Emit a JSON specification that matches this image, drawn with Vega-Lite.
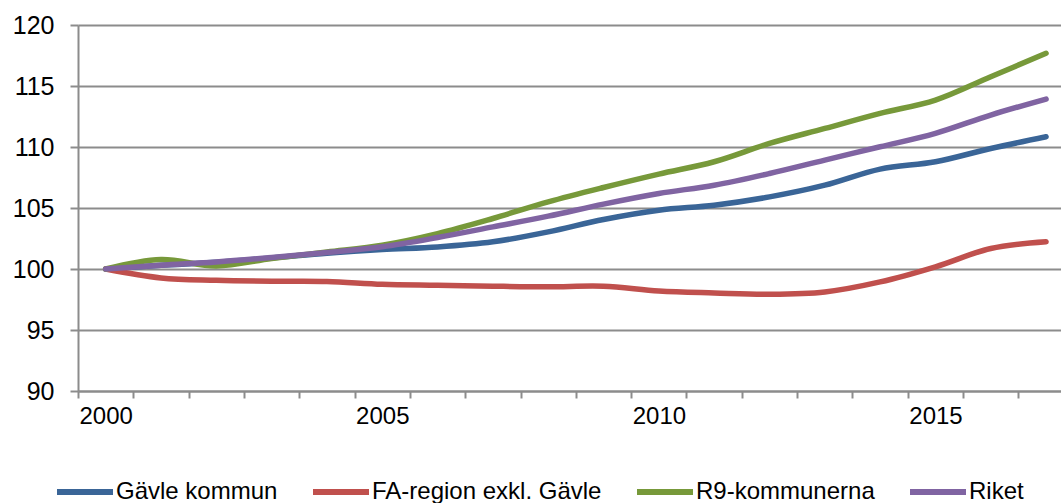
{
  "$schema": "https://vega.github.io/schema/vega-lite/v6.json",
  "autosize": {"type": "none"},
  "padding": {"left": 78, "top": 25, "right": 0, "bottom": 112},
  "width": 983,
  "height": 366,
  "background": "white",
  "config": {
    "view": {"stroke": null},
    "font": "Liberation Sans",
    "axis": {"labelFont": "Liberation Sans", "labelFontSize": 24, "labelColor": "#000000", "domainColor": "#8c8c8c", "tickColor": "#8c8c8c", "gridColor": "#8c8c8c", "domainWidth": 2, "tickWidth": 2, "gridWidth": 2},
    "legend": {"labelFont": "Liberation Sans", "labelFontSize": 24, "labelColor": "#000000"}
  },
  "data": {"values": [
    {"year": 2000, "series": "Gävle kommun", "value": 100.0},
    {"year": 2001, "series": "Gävle kommun", "value": 100.3},
    {"year": 2002, "series": "Gävle kommun", "value": 100.55},
    {"year": 2003, "series": "Gävle kommun", "value": 100.9},
    {"year": 2004, "series": "Gävle kommun", "value": 101.3},
    {"year": 2005, "series": "Gävle kommun", "value": 101.6},
    {"year": 2006, "series": "Gävle kommun", "value": 101.81},
    {"year": 2007, "series": "Gävle kommun", "value": 102.23},
    {"year": 2008, "series": "Gävle kommun", "value": 103.04},
    {"year": 2009, "series": "Gävle kommun", "value": 104.06},
    {"year": 2010, "series": "Gävle kommun", "value": 104.82},
    {"year": 2011, "series": "Gävle kommun", "value": 105.23},
    {"year": 2012, "series": "Gävle kommun", "value": 105.91},
    {"year": 2013, "series": "Gävle kommun", "value": 106.87},
    {"year": 2014, "series": "Gävle kommun", "value": 108.19},
    {"year": 2015, "series": "Gävle kommun", "value": 108.79},
    {"year": 2016, "series": "Gävle kommun", "value": 109.88},
    {"year": 2017, "series": "Gävle kommun", "value": 110.84},
    {"year": 2000, "series": "FA-region exkl. Gävle", "value": 100.0},
    {"year": 2001, "series": "FA-region exkl. Gävle", "value": 99.27},
    {"year": 2002, "series": "FA-region exkl. Gävle", "value": 99.08},
    {"year": 2003, "series": "FA-region exkl. Gävle", "value": 99.0},
    {"year": 2004, "series": "FA-region exkl. Gävle", "value": 98.98},
    {"year": 2005, "series": "FA-region exkl. Gävle", "value": 98.75},
    {"year": 2006, "series": "FA-region exkl. Gävle", "value": 98.67},
    {"year": 2007, "series": "FA-region exkl. Gävle", "value": 98.59},
    {"year": 2008, "series": "FA-region exkl. Gävle", "value": 98.54},
    {"year": 2009, "series": "FA-region exkl. Gävle", "value": 98.59},
    {"year": 2010, "series": "FA-region exkl. Gävle", "value": 98.2},
    {"year": 2011, "series": "FA-region exkl. Gävle", "value": 98.04},
    {"year": 2012, "series": "FA-region exkl. Gävle", "value": 97.93},
    {"year": 2013, "series": "FA-region exkl. Gävle", "value": 98.12},
    {"year": 2014, "series": "FA-region exkl. Gävle", "value": 98.94},
    {"year": 2015, "series": "FA-region exkl. Gävle", "value": 100.18},
    {"year": 2016, "series": "FA-region exkl. Gävle", "value": 101.68},
    {"year": 2017, "series": "FA-region exkl. Gävle", "value": 102.23},
    {"year": 2000, "series": "R9-kommunerna", "value": 100.0},
    {"year": 2001, "series": "R9-kommunerna", "value": 100.78},
    {"year": 2002, "series": "R9-kommunerna", "value": 100.25},
    {"year": 2003, "series": "R9-kommunerna", "value": 100.86},
    {"year": 2004, "series": "R9-kommunerna", "value": 101.4},
    {"year": 2005, "series": "R9-kommunerna", "value": 101.95},
    {"year": 2006, "series": "R9-kommunerna", "value": 102.9},
    {"year": 2007, "series": "R9-kommunerna", "value": 104.14},
    {"year": 2008, "series": "R9-kommunerna", "value": 105.5},
    {"year": 2009, "series": "R9-kommunerna", "value": 106.68},
    {"year": 2010, "series": "R9-kommunerna", "value": 107.78},
    {"year": 2011, "series": "R9-kommunerna", "value": 108.79},
    {"year": 2012, "series": "R9-kommunerna", "value": 110.29},
    {"year": 2013, "series": "R9-kommunerna", "value": 111.52},
    {"year": 2014, "series": "R9-kommunerna", "value": 112.76},
    {"year": 2015, "series": "R9-kommunerna", "value": 113.85},
    {"year": 2016, "series": "R9-kommunerna", "value": 115.76},
    {"year": 2017, "series": "R9-kommunerna", "value": 117.68},
    {"year": 2000, "series": "Riket", "value": 100.0},
    {"year": 2001, "series": "Riket", "value": 100.31},
    {"year": 2002, "series": "Riket", "value": 100.58},
    {"year": 2003, "series": "Riket", "value": 100.94},
    {"year": 2004, "series": "Riket", "value": 101.35},
    {"year": 2005, "series": "Riket", "value": 101.82},
    {"year": 2006, "series": "Riket", "value": 102.58},
    {"year": 2007, "series": "Riket", "value": 103.45},
    {"year": 2008, "series": "Riket", "value": 104.33},
    {"year": 2009, "series": "Riket", "value": 105.32},
    {"year": 2010, "series": "Riket", "value": 106.19},
    {"year": 2011, "series": "Riket", "value": 106.87},
    {"year": 2012, "series": "Riket", "value": 107.83},
    {"year": 2013, "series": "Riket", "value": 108.93},
    {"year": 2014, "series": "Riket", "value": 110.02},
    {"year": 2015, "series": "Riket", "value": 111.12},
    {"year": 2016, "series": "Riket", "value": 112.62},
    {"year": 2017, "series": "Riket", "value": 113.93}
  ]},
  "mark": {"type": "line", "interpolate": "catmull-rom", "strokeWidth": 5.5, "strokeCap": "round", "strokeJoin": "round", "clip": false},
  "encoding": {
    "x": {
      "field": "year", "type": "quantitative",
      "scale": {"domain": [1999.5, 2017.27], "nice": false, "zero": false},
      "axis": {
        "title": null, "grid": false, "tickSize": 7, "labelPadding": 6,
        "values": [1999.5, 2000.5, 2001.5, 2002.5, 2003.5, 2004.5, 2005.5, 2006.5, 2007.5, 2008.5, 2009.5, 2010.5, 2011.5, 2012.5, 2013.5, 2014.5, 2015.5, 2016.5],
        "labelExpr": "datum.value % 5 == 4.5 ? toString(datum.value + 0.5) : ''",
        "labelOffset": 27.7, "labelFlush": false, "labelOverlap": false, "labelBound": false
      }
    },
    "y": {
      "field": "value", "type": "quantitative",
      "scale": {"domain": [90, 120], "nice": false, "zero": false},
      "axis": {"title": null, "values": [90, 95, 100, 105, 110, 115, 120], "tickSize": 8, "labelPadding": 16, "labelFontSize": 25, "format": "d", "grid": true}
    },
    "color": {
      "field": "series", "type": "nominal",
      "scale": {
        "domain": ["Gävle kommun", "FA-region exkl. Gävle", "R9-kommunerna", "Riket"],
        "range": ["#3A6597", "#C0504D", "#77993A", "#8064A2"]
      },
      "legend": {
        "title": null, "orient": "none", "direction": "horizontal",
        "legendX": -24, "legendY": 436,
        "symbolType": "stroke", "symbolSize": 3136, "symbolStrokeWidth": 6,
        "labelOffset": 0, "columnPadding": 23, "labelLimit": 400
      }
    }
  }
}
